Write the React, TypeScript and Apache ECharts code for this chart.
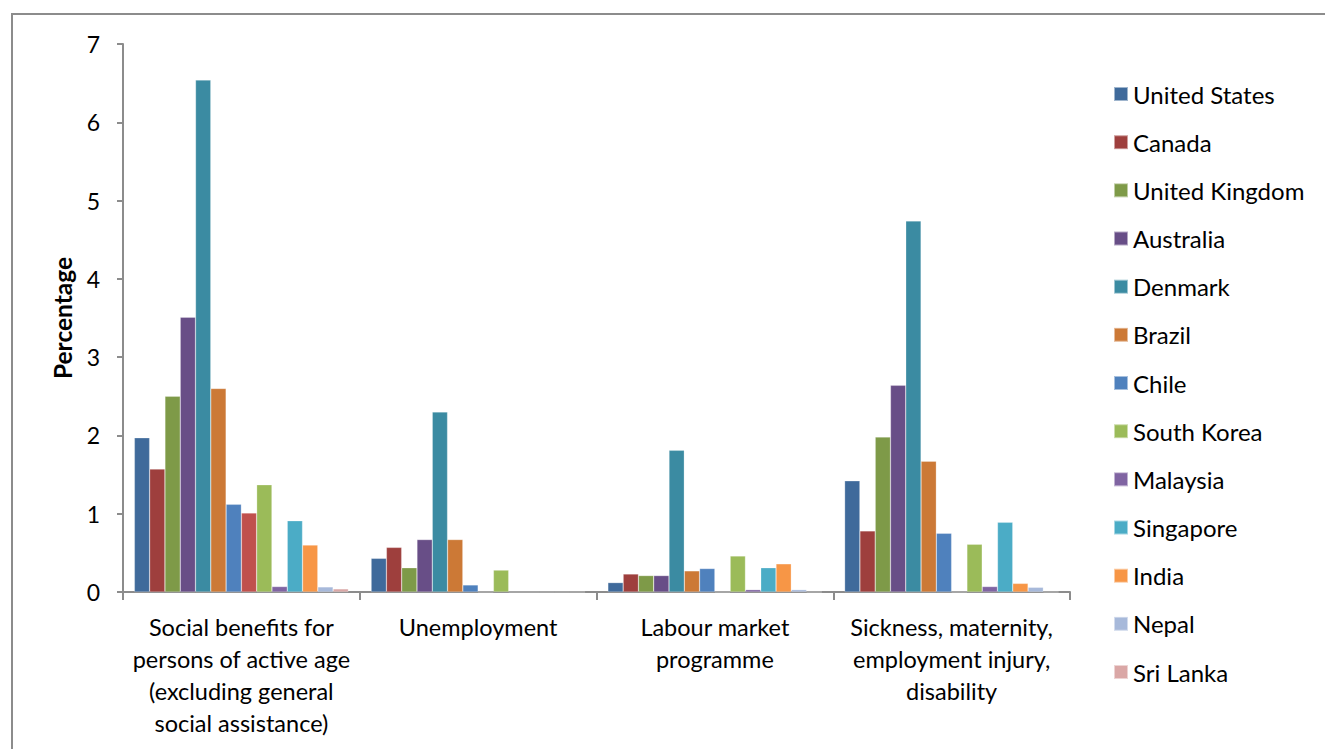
import React, { useEffect, useRef } from "react";
import * as echarts from "echarts";

const categories = [
  "Social benefits for\npersons of active age\n(excluding general\nsocial assistance)",
  "Unemployment",
  "Labour market\nprogramme",
  "Sickness, maternity,\nemployment injury,\ndisability",
];

const seriesNames = [
  "United States", "Canada", "United Kingdom", "Australia", "Denmark", "Brazil",
  "Chile", "Series 8", "South Korea", "Malaysia", "Singapore", "India", "Nepal", "Sri Lanka",
];
const legendNames = seriesNames.filter((n) => n !== "Series 8");

const colors = [
  "#3F6A9B", "#9E3F3D", "#7E9A48", "#684E87", "#3B8BA2", "#CC7936",
  "#4F81BD", "#C0504D", "#9BBB59", "#8064A2", "#4BACC6", "#F79646", "#A7B9DA", "#DAA7A6",
];

const unitedStates = [1.97, 0.43, 0.12, 1.42];
const canada = [1.57, 0.57, 0.23, 0.78];
const unitedKingdom = [2.5, 0.31, 0.21, 1.98];
const australia = [3.51, 0.67, 0.21, 2.64];
const denmark = [6.54, 2.3, 1.81, 4.74];
const brazil = [2.6, 0.67, 0.27, 1.67];
const chile = [1.12, 0.09, 0.3, 0.75];
const series8 = [1.01, 0, 0, 0];
const southKorea = [1.37, 0.28, 0.46, 0.61];
const malaysia = [0.07, 0, 0.03, 0.07];
const singapore = [0.91, 0, 0.31, 0.89];
const india = [0.6, 0, 0.36, 0.11];
const nepal = [0.065, 0, 0.03, 0.06];
const sriLanka = [0.04, 0, 0, 0];

const seriesValues = [
  unitedStates, canada, unitedKingdom, australia, denmark, brazil, chile,
  series8, southKorea, malaysia, singapore, india, nepal, sriLanka,
];

const FONT = "Lato";

export default function App() {
  const ref = useRef<HTMLDivElement>(null);
  useEffect(() => {
    if (!ref.current) return;
    const chart = echarts.init(ref.current, null, { renderer: "svg" });
    chart.setOption({
      animation: false,
      textStyle: { fontFamily: FONT },
      graphic: [
        {
          type: "rect",
          shape: { x: 12, y: 14, width: 1400, height: 800 },
          style: { fill: "none", stroke: "#8C8C8C", lineWidth: 2 },
          silent: true,
        },
      ],
      grid: { left: 123, right: 255, top: 44, bottom: 157, containLabel: false },
      legend: {
        orient: "vertical",
        left: 1113,
        top: 82,
        padding: 0,
        data: legendNames,
        itemWidth: 14,
        itemHeight: 14,
        itemGap: 24.17,
        icon: "rect",
        textStyle: { fontFamily: FONT, fontSize: 24, color: "#000", lineHeight: 24, padding: [0, 0, 0, 0] },
      },
      xAxis: {
        type: "category",
        data: categories,
        axisLine: { lineStyle: { color: "#8C8C8C", width: 2 } },
        axisTick: { show: true, length: 8, lineStyle: { color: "#8C8C8C", width: 2 } },
        axisLabel: {
          interval: 0,
          fontFamily: FONT,
          fontSize: 23.5,
          lineHeight: 32,
          color: "#000",
          margin: 19,
        },
      },
      yAxis: {
        type: "value",
        min: 0,
        max: 7,
        interval: 1,
        name: "Percentage",
        nameLocation: "middle",
        nameGap: 48,
        nameTextStyle: { fontFamily: FONT, fontSize: 24.5, fontWeight: "bold", color: "#000" },
        splitLine: { show: false },
        axisLine: { show: true, lineStyle: { color: "#8C8C8C", width: 2 } },
        axisTick: { show: true, length: 6, lineStyle: { color: "#8C8C8C", width: 2 } },
        axisLabel: { fontFamily: FONT, fontSize: 23, color: "#000", margin: 23 },
      },
      series: seriesNames.map((name, i) => ({
        name,
        type: "bar",
        data: seriesValues[i],
        barGap: "0%",
        barCategoryGap: "9.6%",
        itemStyle: { color: colors[i], borderColor: "rgba(255,255,255,0.5)", borderWidth: 0.5 },
      })),
    });
    return () => chart.dispose();
  }, []);
  return (
    <div
      ref={ref}
      style={{ position: "absolute", left: 0, top: 0, width: 1325, height: 749, background: "#fff" }}
    />
  );
}
